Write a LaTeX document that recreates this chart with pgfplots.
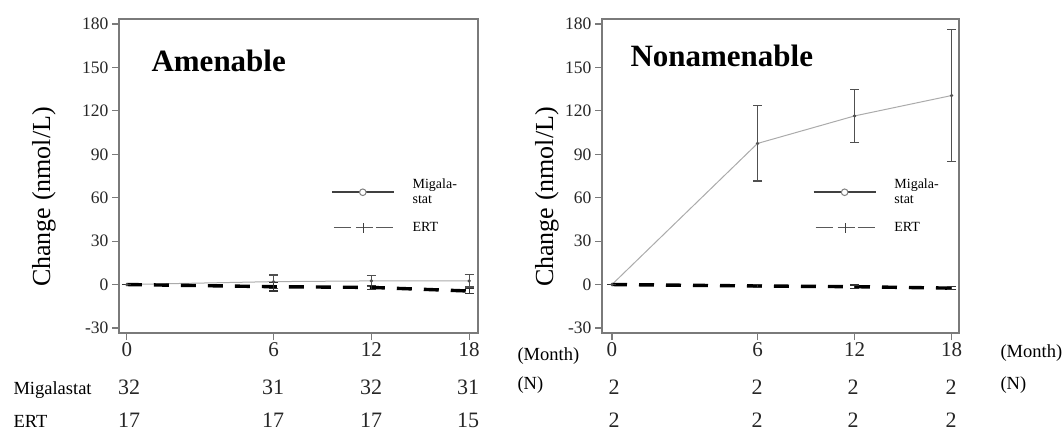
\documentclass[border=0pt]{standalone}
\usepackage{pgfplots}
\pgfplotsset{compat=1.18}
\usepackage{fontspec}
\setmainfont{Liberation Serif}

\definecolor{axgray}{HTML}{7A7A7A}
\definecolor{lingray}{HTML}{ABABAB}
\definecolor{errgray}{HTML}{505050}

% months 0,6,12,18 sit at 0,1.5,2.5,3.5 on the (uneven) time axis
\pgfplotstableread{
x    y     err
0    0     0
1.5  2     4.6
2.5  2.5   3.5
3.5  2.5   4.2
}\migAmen
\pgfplotstableread{
x    y     err
0    0     0
1.5  -1.5  3
2.5  -2    1.5
3.5  -4.5  2
}\ertAmen
\pgfplotstableread{
x    y      err
0    0      0
1.5  97.5   26
2.5  116.5  18.5
3.5  130.6  45.7
}\migNon
\pgfplotstableread{
x    y     err
0    0     0
1.5  -1    1
2.5  -1.5  1.2
3.5  -2.5  1
}\ertNon

\pgfplotsset{
  panel/.style={
    scale only axis, height=314pt,
    ymin=-33.5, ymax=183.5,
    ytick={-30,0,30,60,90,120,150,180},
    yticklabels={-30,0,30,60,90,120,150,180},
    xtick={0,1.5,2.5,3.5}, xticklabels={0,6,12,18},
    xtick pos=lower, ytick pos=left,
    tick align=outside, major tick length=7pt,
    tick style={axgray, line width=1.2pt},
    axis line style={axgray, line width=1.2pt},
    every y tick label/.append style={font=\fontsize{17.5}{17.5}\selectfont, text=black!85},
    every x tick label/.append style={font=\fontsize{21}{21}\selectfont, text=black!85, anchor=base, yshift=-16pt},
    clip=false,
    legend style={draw=none, fill=none, inner sep=0pt, anchor=north west,
      font=\fontsize{14}{15}\selectfont, row sep=13pt,
      /tikz/every odd column/.append style={column sep=16pt},
      cells={anchor=west, align=left}},
    legend cell align=left,
  },
  migline/.style={lingray, line width=1pt, mark=*, mark size=1.1pt,
    mark options={errgray},
    error bars/.cd, y dir=both, y explicit,
    error bar style={errgray, line width=1.2pt},
    error mark options={errgray, rotate=90, mark size=4.5pt, line width=1.2pt}},
  ertline/.style={black, line width=3.4pt, dash pattern=on 15pt off 12pt,
    error bars/.cd, y dir=both, y explicit,
    error bar style={black!80, line width=1.1pt, solid},
    error mark options={black!80, rotate=90, mark size=4.5pt, line width=1.1pt}},
  migleg/.style={legend image code/.code={
    \draw[black!75, line width=1.6pt] (0pt,0pt) -- (62pt,0pt);
    \draw[black!50, line width=1pt, fill=white] (31pt,0pt) circle (3.3pt);}},
  ertleg/.style={legend image code/.code={
    \draw[black!65, line width=1pt] (2pt,0pt) -- (19pt,0pt) (24pt,0pt) -- (41pt,0pt) (44pt,0pt) -- (61pt,0pt);
    \draw[black!75, line width=1.2pt] (32pt,-5pt) -- (32pt,5pt);}},
}

\begin{document}
\begin{tikzpicture}[x=1pt, y=1pt]
\useasboundingbox (0,0) rectangle (1063,432);

% ---- Amenable ----
\begin{axis}[panel, at={(119pt,99pt)}, anchor=south west, width=359pt,
  xmin=-0.08, xmax=3.59,
  legend style={at={(0.59,0.497)}}]
\addplot[forget plot, migline] table[x=x, y=y, y error=err] {\migAmen};
\addplot[forget plot, ertline] table[x=x, y=y, y error=err] {\ertAmen};
\addlegendimage{migleg}
\addlegendentry{Migala-\\stat}
\addlegendimage{ertleg}
\addlegendentry{ERT}
\end{axis}

% ---- Nonamenable ----
\begin{axis}[panel, at={(602pt,99pt)}, anchor=south west, width=357pt,
  xmin=-0.103, xmax=3.577,
  legend style={at={(0.59,0.497)}}]
\addplot[forget plot, migline] table[x=x, y=y, y error=err] {\migNon};
\addplot[forget plot, ertline] table[x=x, y=y, y error=err] {\ertNon};
\addlegendimage{migleg}
\addlegendentry{Migala-\\stat}
\addlegendimage{ertleg}
\addlegendentry{ERT}
\end{axis}

% titles and axis titles
\node[anchor=base west, font=\bfseries\fontsize{31}{31}\selectfont] at (148,360) {Amenable};
\node[anchor=base west, font=\bfseries\fontsize{31}{31}\selectfont] at (627,365) {Nonamenable};
\node[rotate=90, font=\fontsize{26}{26}\selectfont] at (44,235) {Change (nmol/L)};
\node[rotate=90, font=\fontsize{26}{26}\selectfont] at (547,235) {Change (nmol/L)};

% number-at-risk rows
\node[anchor=base west, font=\fontsize{18.5}{18.5}\selectfont] at (10,38) {Migalastat};
\node[anchor=base west, font=\fontsize{18.5}{18.5}\selectfont] at (10,5) {ERT};
\begin{scope}[every node/.style={anchor=base, font=\fontsize{22}{22}\selectfont, text=black!85}]
\node at (129,38) {32}; \node at (273,38) {31}; \node at (371,38) {32}; \node at (468,38) {31};
\node at (129,5) {17};  \node at (273,5) {17};  \node at (371,5) {17};  \node at (468,5) {15};
\node at (614,38) {2}; \node at (757,38) {2}; \node at (853,38) {2}; \node at (951,38) {2};
\node at (614,5) {2};  \node at (757,5) {2};  \node at (853,5) {2};  \node at (951,5) {2};
\end{scope}
\begin{scope}[every node/.style={anchor=base west, font=\fontsize{18.5}{18.5}\selectfont}]
\node at (514,72) {(Month)};
\node at (514,43) {(N)};
\node at (997,75) {(Month)};
\node at (997,43) {(N)};
\end{scope}
\end{tikzpicture}
\end{document}
